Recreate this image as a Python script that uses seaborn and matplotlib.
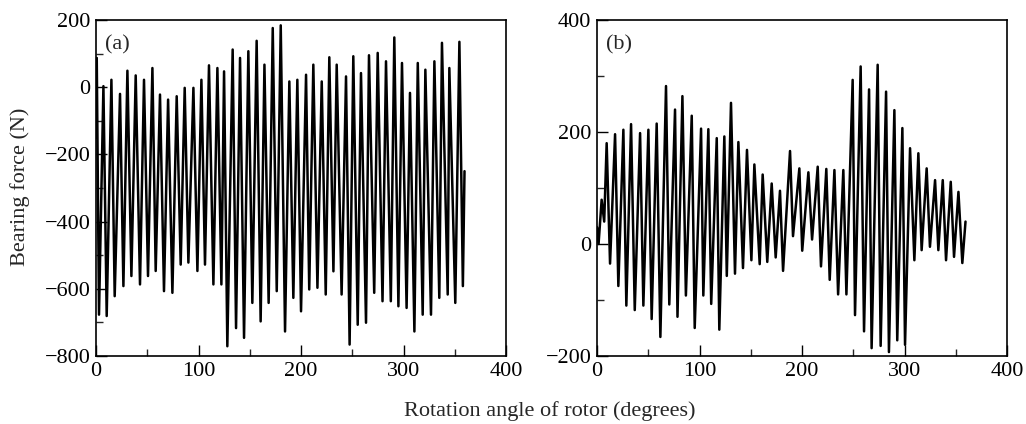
import numpy as np
import pandas as pd
import matplotlib
matplotlib.use("Agg")
import matplotlib.pyplot as plt
from matplotlib.ticker import MultipleLocator
import seaborn as sns

sns.set_style("ticks")
plt.rcParams["font.family"] = ["Liberation Serif", "DejaVu Serif"]

# panel (a): peaks / troughs (angle in degrees, force in N)
a_peak_angle = [0.7, 7.2, 15.0, 23.4, 30.6, 38.7, 46.8, 55.0, 62.4, 70.3, 78.7, 86.5,
                95.0, 102.8, 110.2, 118.4, 124.9, 133.3, 140.5, 148.6, 156.7, 164.3,
                172.4, 180.2, 188.6, 196.4, 204.9, 212.0, 220.2, 227.6, 234.8, 243.9,
                251.0, 258.5, 266.3, 274.8, 282.9, 291.0, 298.5, 306.3, 313.9, 321.3,
                330.1, 337.5, 344.7, 354.5]
a_peak_force = [87, 3, 22, -20, 49, 35, 22, 57, -22, -37, -27, -2,
                -2, 22, 65, 57, 47, 112, 87, 107, 138, 67,
                176, 184, 17, 22, 37, 67, 17, 89, 67, 32,
                92, 42, 95, 102, 77, 148, 72, -17, 72, 52,
                77, 132, 57, 135]
a_trough_angle = [2.9, 10.4, 18.2, 26.7, 34.5, 42.9, 50.7, 58.2, 66.3, 74.5, 82.6, 90.1,
                  98.9, 106.3, 114.5, 122.3, 128.1, 136.6, 144.4, 152.5, 160.6, 168.4,
                  176.3, 184.4, 192.5, 200.0, 208.0, 216.0, 224.1, 231.6, 239.6, 247.4,
                  255.3, 263.4, 271.4, 279.5, 287.6, 295.0, 303.0, 310.6, 318.7, 326.8,
                  334.9, 343.1, 350.5, 357.9]
a_trough_force = [-677, -681, -622, -592, -562, -587, -562, -547, -607, -612, -528, -522,
                  -547, -528, -587, -587, -771, -717, -746, -642, -697, -642,
                  -607, -727, -627, -667, -602, -597, -617, -548, -617, -766,
                  -707, -701, -612, -637, -637, -652, -657, -727, -677, -677,
                  -627, -617, -642, -592]
a_ends_angle = [0.0, 359.5]
a_ends_force = [-150, -250]

# panel (b)
b_peak_angle = [4.5, 9.4, 17.6, 25.7, 33.2, 42.0, 50.1, 58.2, 67.3, 76.1, 83.3, 92.4,
                101.5, 108.6, 116.8, 124.2, 130.7, 137.9, 146.3, 153.5, 161.6, 170.4,
                178.5, 188.3, 197.4, 206.2, 215.3, 223.7, 231.6, 240.3, 249.4, 257.2,
                265.4, 273.8, 282.0, 290.1, 297.9, 305.4, 313.5, 321.6, 329.8, 337.3,
                345.1, 352.6]
b_peak_force = [79, 180, 196, 204, 214, 198, 204, 215, 282, 240, 264, 229,
                206, 205, 189, 192, 252, 182, 168, 142, 124, 108,
                95, 166, 135, 128, 138, 134, 132, 132, 293, 317,
                276, 320, 272, 239, 207, 171, 162, 135, 114, 114,
                111, 93]
b_trough_angle = [1.5, 7.0, 12.7, 20.8, 28.6, 36.8, 45.2, 53.3, 61.8, 70.5, 78.5, 86.7,
                  95.3, 103.7, 111.4, 119.3, 126.6, 134.6, 142.4, 150.6, 158.7, 166.1,
                  174.3, 181.5, 191.2, 200.2, 209.8, 218.5, 227.0, 235.2, 243.3, 251.7,
                  260.5, 267.9, 276.7, 284.8, 292.9, 300.5, 309.6, 316.7, 324.8, 333.0,
                  340.5, 348.3, 356.4]
b_trough_force = [0, 40, -35, -75, -110, -118, -110, -134, -166, -108, -130, -92,
                  -150, -92, -107, -153, -57, -53, -43, -29, -36, -32,
                  -24, -48, 14, -12, 8, -40, -64, -90, -90, -127,
                  -156, -186, -182, -193, -172, -180, -29, -11, -5, -11,
                  -29, -23, -34]
b_ends_angle = [0.0, 359.5]
b_ends_force = [30, 40]


def build_trace(peak_a, peak_f, trough_a, trough_f, end_a, end_f):
    df = pd.DataFrame({
        "angle": list(peak_a) + list(trough_a) + list(end_a),
        "force": list(peak_f) + list(trough_f) + list(end_f),
    })
    return df.sort_values("angle").reset_index(drop=True)


trace_a = build_trace(a_peak_angle, a_peak_force, a_trough_angle, a_trough_force,
                      a_ends_angle, a_ends_force)
trace_b = build_trace(b_peak_angle, b_peak_force, b_trough_angle, b_trough_force,
                      b_ends_angle, b_ends_force)

fig = plt.figure(figsize=(10.26, 4.24), dpi=100)
ax_a = fig.add_axes([0.0936, 0.1604, 0.3996, 0.7925])
ax_b = fig.add_axes([0.5819, 0.1604, 0.3996, 0.7925])

panels = [
    (ax_a, trace_a, (-800, 200), "(a)"),
    (ax_b, trace_b, (-200, 400), "(b)"),
]
for ax, df, ylim, tag in panels:
    sns.lineplot(data=df, x="angle", y="force", ax=ax, color="black",
                 linewidth=1.8, estimator=None, sort=True)
    ax.set_xlim(0, 400)
    ax.set_ylim(*ylim)
    ax.xaxis.set_major_locator(MultipleLocator(100))
    ax.xaxis.set_minor_locator(MultipleLocator(50))
    ax.yaxis.set_major_locator(MultipleLocator(200))
    ax.yaxis.set_minor_locator(MultipleLocator(100))
    ax.tick_params(which="major", direction="in", length=8, width=1,
                   labelsize=16, pad=4, colors="black")
    ax.tick_params(which="minor", direction="in", length=5, width=1)
    for sp in ax.spines.values():
        sp.set_visible(True)
        sp.set_linewidth(1.2)
        sp.set_color("black")
    ax.set_xlabel("")
    ax.set_ylabel("")
    ax.text(0.022, 0.955, tag, transform=ax.transAxes, fontsize=16,
            ha="left", va="top")

fig.text(0.02, 0.56, "Bearing force (N)", rotation=90, fontsize=16,
         ha="center", va="center")
fig.text(0.536, 0.03, "Rotation angle of rotor (degrees)", fontsize=16,
         ha="center", va="center")

fig.savefig("out.png", dpi=100)
